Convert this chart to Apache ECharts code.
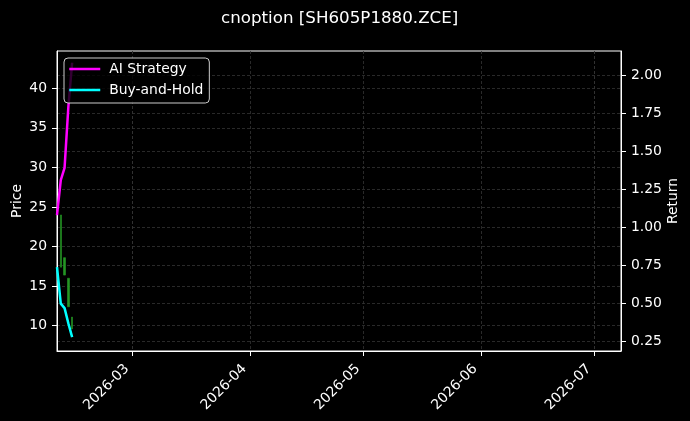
<!DOCTYPE html>
<html>
<head>
<meta http-equiv="Content-Type" content="text/html; charset=utf-8">
<title>cnoption</title>
<script type="text/javascript" src="https://cdn.jsdelivr.net/npm/echarts@6/dist/echarts.min.js"></script>
<style>
  html, body { margin: 0; padding: 0; background: #000; }
  #chart { width: 690px; height: 421px; }
</style>
</head>
<body>
	<div id="chart"></div>
	<script type="text/javascript">

		// 策略曲线（右轴 Return）
		var lineDates = ['2026-02-09', '2026-02-10', '2026-02-11', '2026-02-12', '2026-02-13'];
		var aiStrategy = [1.08, 1.31, 1.39, 1.79, 2.08];
		var buyHold = [0.74, 0.50, 0.47, 0.37, 0.28];

		// K线（左轴 Price）: open, close, low, high
		var candleDates = ['2026-02-10', '2026-02-11', '2026-02-12', '2026-02-13'];
		var candleOpen = [24.0, 18.6, 16.0, 11.1];
		var candleClose = [17.4, 16.4, 12.4, 9.6];
		var candleLow = [17.4, 16.4, 12.4, 9.6];
		var candleHigh = [24.0, 18.6, 16.0, 11.1];

		// 刻度
		var monthTicks = ['2026-03-01', '2026-04-01', '2026-05-01', '2026-06-01', '2026-07-01'];
		var priceTicks = [10, 15, 20, 25, 30, 35, 40];
		var returnTicks = [0.25, 0.5, 0.75, 1.0, 1.25, 1.5, 1.75, 2.0];

		function ts(s) {
			var p = s.split('-');
			return new Date(+p[0], +p[1] - 1, +p[2]).getTime();
		}

		var fontName = 'DejaVu Sans';
		var gridLine = { show : true, lineStyle : { color : '#333333', type : [3, 2], width : 0.8 } };

		var option = {
			backgroundColor : '#000',
			animation : false,
			title : {
				text : 'cnoption [SH605P1880.ZCE]',
				left : 221,
				top : 10,
				padding : 0,
				textStyle : { color : '#fff', fontFamily : fontName, fontSize : 16.7, fontWeight : 'normal' }
			},
			legend : {
				left : 64,
				top : 58,
				orient : 'vertical',
				data : [ 'AI Strategy', 'Buy-and-Hold' ],
				itemWidth : 31,
				itemHeight : 14,
				itemGap : 7,
				padding : [ 4, 6, 6, 4 ],
				backgroundColor : 'rgba(0,0,0,0.8)',
				borderColor : '#cccccc',
				borderWidth : 1,
				borderRadius : 4,
				itemStyle : { opacity : 0 },
				lineStyle : { width : 2.5 },
				textStyle : { color : '#fff', fontFamily : fontName, fontSize : 13.9, padding : [ 0, 0, 0, 4 ] }
			},
			grid : {
				left : 57,
				right : 69,
				top : 51,
				bottom : 70,
				containLabel : false,
				outerBoundsMode : 'none',
				show : true,
				borderColor : '#fff',
				borderWidth : 1,
				backgroundColor : 'transparent'
			},
			xAxis : {
				type : 'time',
				min : ts('2026-02-09'),
				max : ts('2026-07-08'),
				axisLine : { lineStyle : { color : '#fff' } },
				axisTick : { show : true, length : 5, lineStyle : { color : '#fff' }, customValues : monthTicks.map(ts) },
				axisLabel : {
					color : '#fff', fontFamily : fontName, fontSize : 13.9, rotate : 45, margin : 10,
					padding : [ 0, 8, 0, 0 ],
					customValues : monthTicks.map(ts),
					formatter : '{yyyy}-{MM}'
				},
				splitLine : gridLine
			},
			yAxis : [ {
				type : 'value',
				name : 'Price',
				nameLocation : 'middle',
				nameGap : 33,
				nameMoveOverlap : false,
				nameTextStyle : { color : '#fff', fontFamily : fontName, fontSize : 13.9 },
				min : 6.81,
				max : 44.71,
				axisLine : { show : true, lineStyle : { color : '#fff' } },
				axisTick : { show : true, length : 5, lineStyle : { color : '#fff' }, customValues : priceTicks },
				axisLabel : { color : '#fff', fontFamily : fontName, fontSize : 13.9, margin : 10, customValues : priceTicks },
				splitLine : gridLine
			}, {
				type : 'value',
				name : 'Return',
				nameLocation : 'middle',
				nameGap : 45,
				nameRotate : 90,
				nameMoveOverlap : false,
				nameTextStyle : { color : '#fff', fontFamily : fontName, fontSize : 13.9 },
				min : 0.189,
				max : 2.157,
				axisLine : { show : true, lineStyle : { color : '#fff' } },
				axisTick : { show : true, length : 5, lineStyle : { color : '#fff' }, customValues : returnTicks },
				axisLabel : {
					color : '#fff', fontFamily : fontName, fontSize : 13.9, margin : 10, customValues : returnTicks,
					formatter : function(v) { return v.toFixed(2); }
				},
				splitLine : gridLine
			} ],
			series : [ {
				name : 'Price',
				type : 'candlestick',
				yAxisIndex : 0,
				barWidth : 2,
				itemStyle : { color : '#249624', color0 : '#249624', borderColor : '#249624', borderColor0 : '#249624', borderWidth : 0.6 },
				data : candleDates.map(function(d, i) {
					return [ ts(d), candleOpen[i], candleClose[i], candleLow[i], candleHigh[i] ];
				})
			}, {
				name : 'AI Strategy',
				type : 'line',
				yAxisIndex : 1,
				symbol : 'none',
				lineStyle : { color : '#ff00ff', width : 2.5 },
				itemStyle : { color : '#ff00ff' },
				data : lineDates.map(function(d, i) { return [ ts(d), aiStrategy[i] ]; })
			}, {
				name : 'Buy-and-Hold',
				type : 'line',
				yAxisIndex : 1,
				symbol : 'none',
				lineStyle : { color : '#00ffff', width : 2.5 },
				itemStyle : { color : '#00ffff' },
				data : lineDates.map(function(d, i) { return [ ts(d), buyHold[i] ]; })
			} ]
		};

		var chart = echarts.init(document.getElementById('chart'));
		chart.setOption(option);
	</script>
</body>
</html>
